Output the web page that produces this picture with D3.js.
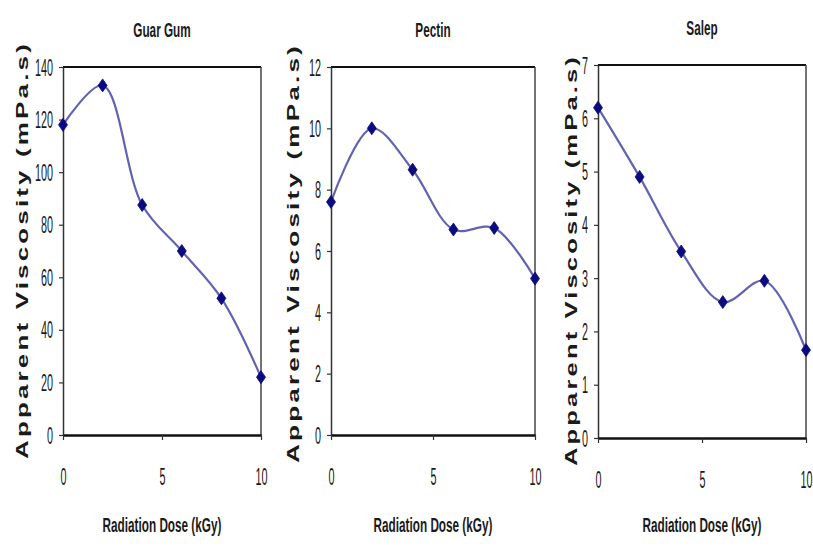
<!DOCTYPE html>
<html>
<head>
<meta charset="utf-8">
<script src="https://cdn.jsdelivr.net/npm/d3@7"></script>
<style>
  html, body { margin: 0; padding: 0; background: #fff; }
  svg { display: block; }
  text { font-family: "Liberation Sans", Arial, sans-serif; fill: #1a1a1a; }
</style>
</head>
<body>
<svg id="chart" width="813" height="547"></svg>
<script>
// Radiation dose (kGy) at which viscosity was measured
const doses = [0, 2, 4, 6, 8, 10];
// Apparent viscosity (mPa.s) per hydrocolloid
const guarGum = [118, 133, 87.5, 70, 52, 22];
const pectin = [7.6, 10.0, 8.65, 6.7, 6.75, 5.1];
const salep = [6.2, 4.9, 3.5, 2.55, 2.95, 1.65];
const panelTitles = ["Guar Gum", "Pectin", "Salep"];
const yMaxima = [140, 12, 7];
const yTickSteps = [20, 2, 1];
const xTickValues = [0, 5, 10];
const xAxisTitle = "Radiation Dose (kGy)";
const yAxisTitle = "Apparent Viscosity  (mPa.s)";

const seriesList = [guarGum, pectin, salep];

// plot rectangles for the three panels
const frames = [
  { left: 63, right: 261, top: 67, bottom: 435, yTitleBase: 28, yTitleLen: 418, yTitleMid: 250 },
  { left: 331, right: 535, top: 67, bottom: 435, yTitleBase: 299, yTitleLen: 420, yTitleMid: 253 },
  { left: 598, right: 806, top: 65, bottom: 438, yTitleBase: 577, yTitleLen: 412, yTitleMid: 260 }
];

const SX = 0.47; // horizontal squeeze for the narrow label face
const svg = d3.select("#chart");

seriesList.forEach((values, i) => {
  const f = frames[i];
  const x = d3.scaleLinear().domain([0, 10]).range([f.left, f.right]);
  const y = d3.scaleLinear().domain([0, yMaxima[i]]).range([f.bottom, f.top]);
  const g = svg.append("g");

  // frame: top and right edges
  g.append("line").attr("x1", f.left).attr("x2", f.right).attr("y1", f.top).attr("y2", f.top)
    .attr("stroke", "#111").attr("stroke-width", 2);
  g.append("line").attr("x1", f.right).attr("x2", f.right).attr("y1", f.top).attr("y2", f.bottom)
    .attr("stroke", "#444").attr("stroke-width", 1.5);

  // y axis
  const yTicks = d3.range(0, yMaxima[i] + 1e-9, yTickSteps[i]);
  const yAxis = g.append("g").attr("transform", `translate(${f.left},0)`)
    .call(d3.axisLeft(y).tickValues(yTicks).tickSize(4).tickSizeOuter(0).tickFormat(d3.format("d")));
  yAxis.select(".domain").attr("stroke", "#333").attr("stroke-width", 1.5);
  yAxis.selectAll(".tick line").attr("stroke", "#333").attr("stroke-width", 1.2);
  yAxis.selectAll(".tick text")
    .attr("font-size", 23).attr("fill", "#222")
    .attr("x", -10 / SX).attr("dy", "0.35em")
    .attr("transform", `scale(${SX},1)`);

  // x axis
  const xAxis = g.append("g").attr("transform", `translate(0,${f.bottom})`)
    .call(d3.axisBottom(x).tickValues(xTickValues).tickSize(5).tickSizeOuter(0).tickFormat(d3.format("d")));
  xAxis.select(".domain").attr("stroke", "#111").attr("stroke-width", 2.5);
  xAxis.selectAll(".tick line").attr("stroke", "#333").attr("stroke-width", 1.2);
  xAxis.selectAll(".tick text")
    .attr("font-size", 23).attr("fill", "#222")
    .attr("y", 50).attr("dy", 0)
    .attr("transform", `scale(${SX},1)`);

  // panel title
  const cx = (f.left + f.right) / 2;
  g.append("text")
    .attr("transform", `translate(${cx},${f.top - 30}) scale(0.56,1)`)
    .attr("text-anchor", "middle").attr("font-size", 21).attr("font-weight", "bold")
    .attr("fill", "#222").text(panelTitles[i]);

  // x axis title
  g.append("text")
    .attr("transform", `translate(${cx},${532}) scale(0.56,1)`)
    .attr("text-anchor", "middle").attr("font-size", 21).attr("font-weight", "bold")
    .attr("fill", "#222").text(xAxisTitle);

  // y axis title, stretched along the panel height
  g.append("text")
    .attr("transform", `translate(${f.yTitleBase},${f.yTitleMid}) rotate(-90)`)
    .attr("text-anchor", "middle").attr("font-size", 16.5).attr("font-weight", "bold")
    .attr("letter-spacing", 2)
    .attr("textLength", f.yTitleLen).attr("lengthAdjust", "spacingAndGlyphs")
    .attr("fill", "#333").text(yAxisTitle);

  // smoothed series line
  const pts = doses.map((d, k) => [d, values[k]]);
  const line = d3.line().x(p => x(p[0])).y(p => y(p[1])).curve(d3.curveCatmullRom.alpha(0.5));
  g.append("path").datum(pts).attr("d", line)
    .attr("fill", "none").attr("stroke", "#4646a6").attr("stroke-width", 2.2)
    .attr("stroke-opacity", 0.85);

  // diamond markers
  g.selectAll(".marker").data(pts).join("path").attr("class", "marker")
    .attr("d", "M0,-6.5L4.5,0L0,6.5L-4.5,0Z")
    .attr("transform", p => `translate(${x(p[0])},${y(p[1])})`)
    .attr("fill", "#0b0b80").attr("stroke", "#0b0b80").attr("stroke-width", 0.8);
});
</script>
</body>
</html>
